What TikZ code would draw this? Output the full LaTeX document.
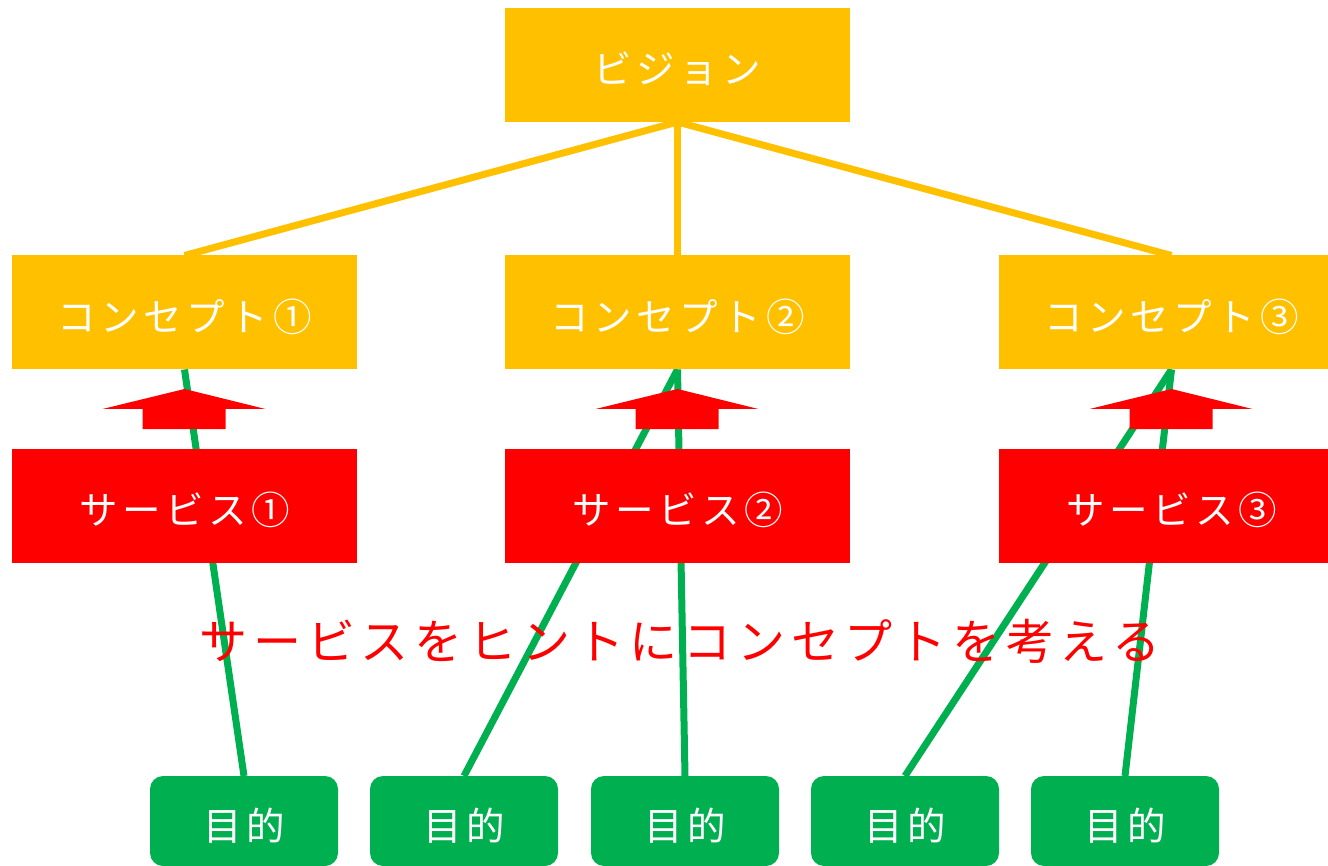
\documentclass[tikz,border=0pt]{standalone}
\usepackage{fontspec}
\newfontfamily\jp[LetterSpace=12]{Noto Sans CJK JP}
\definecolor{cyel}{HTML}{FFC000}
\definecolor{cred}{HTML}{FF0000}
\definecolor{cgrn}{HTML}{00B050}
\begin{document}
\begin{tikzpicture}[x=1pt,y=-1pt,
  box/.style={minimum width=345pt,minimum height=114pt,inner sep=0pt},
  ybox/.style={box,fill=cyel},
  rbox/.style={box,fill=cred},
  gbox/.style={minimum width=188pt,minimum height=90pt,inner sep=0pt,fill=cgrn,rounded corners=13pt},
  lbl/.style={inner sep=0pt,text=white,font=\jp\fontsize{38.5}{42}\selectfont},
  yline/.style={draw=cyel,line width=7pt},
  gline/.style={draw=cgrn,line width=7pt},
  uparrow/.style={fill=cred}
]
\useasboundingbox (0,0) rectangle (1328,866);
% connectors (drawn first, boxes cover their ends)
\coordinate (vb) at (677.5,122);
\coordinate (c1t) at (184.5,255.5);
\coordinate (c2t) at (677.5,255.5);
\coordinate (c3t) at (1171.5,255.5);
\coordinate (c1b) at (184.5,369.5);
\coordinate (c2b) at (677.5,369.5);
\coordinate (c3b) at (1171.5,369.5);
\coordinate (m1t) at (244,776);
\coordinate (m2t) at (464,776);
\coordinate (m3t) at (685,776);
\coordinate (m4t) at (905,776);
\coordinate (m5t) at (1125,776);
\draw[yline] (vb) -- (c1t);
\draw[yline] (vb) -- (c2t);
\draw[yline] (vb) -- (c3t);
\draw[gline] (m1t) -- (c1b);
\draw[gline] (m2t) -- (c2b);
\draw[gline] (m3t) -- (c2b);
\draw[gline] (m4t) -- (c3b);
\draw[gline] (m5t) -- (c3b);
% boxes
\node[ybox] (vis) at (677.5,65) {};
\node[ybox] (c1) at (184.5,312.5) {};
\node[ybox] (c2) at (677.5,312.5) {};
\node[ybox] (c3) at (1171.5,312.5) {};
\node[rbox] (s1) at (184.5,506) {};
\node[rbox] (s2) at (677.5,506) {};
\node[rbox] (s3) at (1171.5,506) {};
\node[gbox] (m1) at (244,821) {};
\node[gbox] (m2) at (464,821) {};
\node[gbox] (m3) at (685,821) {};
\node[gbox] (m4) at (905,821) {};
\node[gbox] (m5) at (1125,821) {};
% labels
\node[lbl] (tvis) at ([yshift=-4pt]vis.center) {ビジョン};
\node[lbl] (tc1) at ([yshift=-4pt]c1.center) {コンセプト①};
\node[lbl] (tc2) at ([yshift=-4pt]c2.center) {コンセプト②};
\node[lbl] (tc3) at ([yshift=-4pt]c3.center) {コンセプト③};
\node[lbl] (ts1) at ([yshift=-4pt]s1.center) {サービス①};
\node[lbl] (ts2) at ([yshift=-4pt]s2.center) {サービス②};
\node[lbl] (ts3) at ([yshift=-4pt]s3.center) {サービス③};
\node[lbl] (tm1) at ([yshift=-5pt]m1.center) {目的};
\node[lbl] (tm2) at ([yshift=-5pt]m2.center) {目的};
\node[lbl] (tm3) at ([yshift=-5pt]m3.center) {目的};
\node[lbl] (tm4) at ([yshift=-5pt]m4.center) {目的};
\node[lbl] (tm5) at ([yshift=-5pt]m5.center) {目的};
% arrows
\foreach \cx in {184.5,677.5,1171.5}{
  \fill[uparrow] (\cx,389) -- (\cx+81,409) -- (\cx+41,409) -- (\cx+41,429)
     -- (\cx-42,429) -- (\cx-42,409) -- (\cx-82,409) -- cycle;
}
\node[text=cred,font=\jp\fontsize{48}{52}\selectfont,inner sep=0pt] (hint) at (680,641) {サービスをヒントにコンセプトを考える};
\end{tikzpicture}
\end{document}
